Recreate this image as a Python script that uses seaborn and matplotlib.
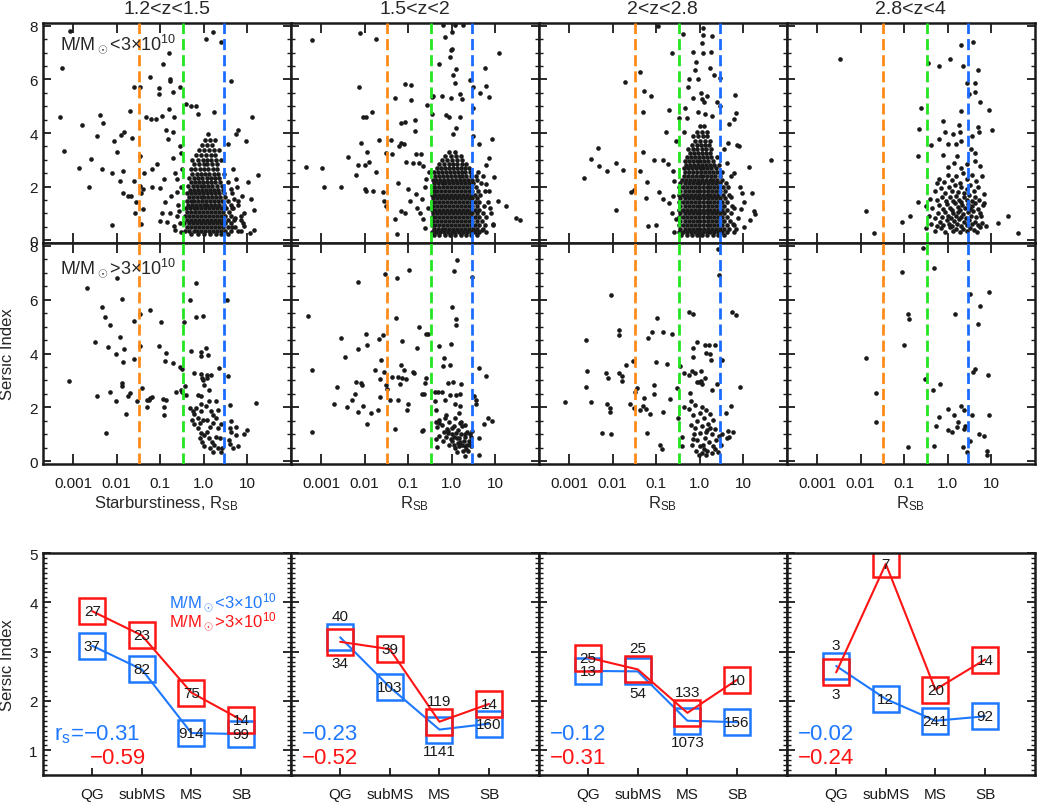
import numpy as np
import seaborn as sns
import pandas as pd
import matplotlib.pyplot as plt
from matplotlib.ticker import FixedLocator, LogLocator, MultipleLocator, NullFormatter

sns.set_theme(style='ticks')
plt.rcParams['font.family'] = ['Liberation Sans', 'DejaVu Sans']
plt.rcParams['mathtext.fontset'] = 'custom'
plt.rcParams['mathtext.rm'] = 'Liberation Sans'
plt.rcParams['mathtext.it'] = 'Liberation Sans:italic'

# ---- labels / categories ----
z_bins = ['1.2<z<1.5', '1.5<z<2', '2<z<2.8', '2.8<z<4']
classes = ['QG', 'subMS', 'MS', 'SB']
rsb_cuts = [1 / 30, 1 / 3, 3]
rsb_ticks = [0.001, 0.01, 0.1, 1.0, 10]
rsb_ticklabels = ['0.001', '0.01', '0.1', '1.0', '10']

# ---- scatter data: (log10 R_SB, Sersic n) ----
lo_z1 = [(-3.08,7.79),(-3.26,6.44),(-3.31,4.60),(-3.20,3.33),(-2.79,4.30),(-2.87,2.71),(-2.64,1.99),(-2.58,3.02),
         (-2.46,3.88),(-2.38,4.66),(-2.31,4.39),(-2.34,2.64),(-2.11,2.52),(-2.05,3.72),(-1.99,3.28),(-2.10,0.58),
         (-1.93,2.21),(-1.89,3.91),(-1.82,4.02),(-1.84,2.59),(-1.85,1.78),(-1.74,1.65),(-1.66,1.65),(-1.69,4.81),
         (-1.64,3.82),(-1.60,5.72),(-1.59,2.21),(-1.55,1.41),(-1.57,1.03),(-1.47,5.70),(-1.47,3.15),(-1.47,2.03),
         (-1.43,1.78),(-1.39,1.90),(-1.38,2.52),(-1.44,0.60),(-1.39,1.18),(-1.32,4.60),(-1.22,6.08),(-1.20,4.51),
         (-1.19,2.65),(-1.18,1.97),(-1.09,4.54),(-1.07,2.84),(-1.03,5.66),(-1.03,5.47),(-1.01,1.94),(-0.96,4.64),
         (-0.93,6.59),(-0.96,1.03),(-0.90,2.28),(-0.86,4.12),(-0.82,3.77),(-0.80,4.89),(-0.78,6.03),(-0.77,5.95),
         (-0.79,7.00),(-0.70,5.53),(-0.68,4.58),(-0.71,4.02),(-0.70,3.08),(-0.65,2.52),(-0.74,1.65),(-0.88,1.41),
         (-1.01,0.72),(-0.84,0.68),(-0.69,0.53),(-0.78,1.03),(-0.55,5.70),(-0.51,3.27),(-0.55,3.52),(-0.49,2.65),
         (-0.40,5.07),(-0.28,5.01),(-0.17,4.99),(-0.13,4.70),(0.06,7.52),(0.22,7.77),(0.41,7.38),(0.62,5.93),
         (0.23,4.77),(0.56,3.58),(0.74,3.97),(0.79,4.10),(0.98,3.71),(1.12,4.59),(1.26,2.43),(1.02,2.19),
         (1.10,1.53),(1.15,1.13),(1.17,0.39),(1.07,0.26),(0.94,0.53),(0.77,1.97),(0.68,2.65),(0.89,1.65),
         (-0.62,0.90),(-0.58,1.30),(-0.66,0.40),(-0.55,0.65),(-0.60,1.80),(-0.52,2.00),(-0.57,1.10),(-0.53,0.30),
         (-0.62,2.30),(0.65,0.50),(0.72,0.85),(0.80,1.30),(0.85,0.35),(0.70,1.55),(0.62,1.90),(0.75,2.30),
         (0.92,1.00),(0.66,1.20),(0.85,0.75)]
lo_z1_core = [
    (0.22, [-0.28,-0.12,0.02,0.15,0.28,0.40,0.55]),
    (0.35, [-0.42,-0.33,-0.23,-0.14,-0.05,0.04,0.13,0.22,0.31,0.40,0.50,0.63,0.80]),
    (0.49, [-0.37,-0.28,-0.19,-0.10,-0.01,0.08,0.17,0.26,0.35,0.45,0.57,0.72]),
    (0.63, [-0.45,-0.33,-0.24,-0.15,-0.06,0.03,0.12,0.21,0.30,0.39,0.49,0.64,0.90]),
    (0.77, [-0.38,-0.28,-0.19,-0.10,-0.01,0.08,0.17,0.26,0.35,0.44,0.56,0.70]),
    (0.91, [-0.42,-0.33,-0.24,-0.15,-0.06,0.03,0.12,0.21,0.30,0.39,0.50,0.62,0.85]),
    (1.05, [-0.37,-0.28,-0.19,-0.10,-0.01,0.08,0.17,0.26,0.35,0.45,0.58]),
    (1.19, [-0.41,-0.32,-0.23,-0.14,-0.05,0.04,0.13,0.22,0.31,0.40,0.52,0.68]),
    (1.33, [-0.36,-0.27,-0.18,-0.09,0.00,0.09,0.18,0.27,0.36,0.47,0.62]),
    (1.47, [-0.39,-0.30,-0.21,-0.12,-0.03,0.06,0.15,0.24,0.33,0.42,0.55,0.78]),
    (1.61, [-0.34,-0.25,-0.16,-0.07,0.02,0.11,0.20,0.29,0.38,0.50]),
    (1.75, [-0.37,-0.28,-0.19,-0.10,-0.01,0.08,0.17,0.26,0.36,0.48,0.66]),
    (1.89, [-0.32,-0.22,-0.13,-0.04,0.05,0.14,0.23,0.33,0.44]),
    (2.03, [-0.35,-0.25,-0.16,-0.07,0.02,0.11,0.20,0.30,0.42]),
    (2.17, [-0.29,-0.19,-0.10,-0.01,0.08,0.17,0.27,0.38,0.55]),
    (2.33, [-0.33,-0.22,-0.12,-0.03,0.07,0.16,0.26,0.36]),
    (2.49, [-0.27,-0.16,-0.06,0.04,0.13,0.23,0.34,0.48]),
    (2.66, [-0.30,-0.19,-0.08,0.02,0.11,0.21,0.31]),
    (2.83, [-0.22,-0.11,0.00,0.09,0.19,0.30]),
    (3.00, [-0.26,-0.13,-0.02,0.08,0.17,0.28,0.40]),
    (3.18, [-0.18,-0.05,0.06,0.16,0.26]),
    (3.36, [-0.10,0.02,0.13,0.24,0.36]),
    (3.55, [-0.03,0.08,0.20]),
    (3.75, [0.03,0.15,0.27]),
    (3.95, [0.10]),
]

lo_z2 = [(-3.21,7.46),(-2.11,7.71),(-1.73,7.50),(-2.12,5.70),(-2.03,4.61),(-1.96,4.61),(-1.82,4.79),(-2.07,3.64),
         (-1.94,3.31),(-1.67,3.73),(-2.38,3.12),(-3.35,2.72),(-2.97,2.71),(-2.92,2.00),(-2.55,2.00),(-2.20,2.45),
         (-2.14,2.81),(-2.00,2.81),(-1.90,2.92),(-1.74,2.54),(-1.98,1.93),(-1.97,1.84),(-1.80,1.82),(-1.57,1.80),
         (-1.55,1.47),(-1.50,1.27),(-1.50,3.27),(-1.40,3.74),(-1.36,3.21),(-1.31,5.29),(-1.21,3.52),(-1.17,3.64),
         (-1.09,3.60),(-1.06,5.82),(-0.94,5.78),(-0.94,5.24),(-1.17,4.39),(-1.06,4.42),(-0.83,4.48),(-0.83,4.08),
         (-0.82,3.23),(-0.71,3.23),(-1.05,2.92),(-0.88,2.90),(-0.75,2.87),(-0.66,2.77),(-0.56,5.04),(-0.46,5.36),
         (-0.43,5.39),(-0.46,4.70),(-0.29,6.57),(-0.16,7.59),(0.01,7.75),(0.07,8.04),(-0.19,8.04),(0.26,8.04),
         (-0.02,7.10),(0.02,7.13),(-0.03,6.85),(0.11,6.38),(0.09,5.88),(0.03,6.16),(-0.21,5.39),(-0.02,5.32),
         (0.19,5.45),(0.24,5.26),(-0.12,4.68),(-0.07,4.58),(0.19,4.61),(0.11,4.20),(0.03,3.98),(0.42,5.98),
         (0.49,5.73),(0.66,5.49),(0.78,5.76),(0.76,6.44),(0.85,5.36),(1.08,6.97),(0.49,4.95),(0.63,3.58),
         (0.80,2.81),(0.92,3.77),(0.86,3.05),(0.49,3.89),(1.25,1.28),(1.49,0.83),(1.57,0.76),(1.07,1.47),
         (0.86,1.84),(-1.30,0.78),(-1.25,0.22),(-1.17,1.09),(-1.08,1.03),(-1.23,2.15),(-1.00,1.90),(-0.96,1.47),
         (-0.81,1.72),(-0.79,1.22),(-0.73,1.03),(-0.66,0.78),(-0.69,1.53),(-0.62,1.97),(-0.58,2.28),(-0.60,0.45),
         (-0.55,1.20),(-0.52,2.55),(0.72,2.40),(0.80,2.10),(0.88,1.20),(0.95,0.60),(0.70,0.40),(0.98,2.35)]
lo_z2_core = [
    (0.18, [-0.40,-0.28,-0.15,-0.03,0.09,0.21,0.33,0.45,0.58]),
    (0.30, [-0.45,-0.36,-0.27,-0.18,-0.09,0.00,0.09,0.18,0.27,0.36,0.45,0.54,0.64,0.80]),
    (0.44, [-0.41,-0.32,-0.23,-0.14,-0.05,0.04,0.13,0.22,0.31,0.40,0.49,0.59,0.72]),
    (0.58, [-0.46,-0.37,-0.28,-0.19,-0.10,-0.01,0.08,0.17,0.26,0.35,0.44,0.53,0.63,0.76,0.95]),
    (0.72, [-0.42,-0.33,-0.24,-0.15,-0.06,0.03,0.12,0.21,0.30,0.39,0.48,0.58,0.70]),
    (0.86, [-0.46,-0.37,-0.28,-0.19,-0.10,-0.01,0.08,0.17,0.26,0.35,0.44,0.53,0.63,0.78]),
    (1.00, [-0.42,-0.33,-0.24,-0.15,-0.06,0.03,0.12,0.21,0.30,0.39,0.48,0.58,0.72,0.90]),
    (1.14, [-0.46,-0.37,-0.28,-0.19,-0.10,-0.01,0.08,0.17,0.26,0.35,0.44,0.53,0.64]),
    (1.28, [-0.42,-0.33,-0.24,-0.15,-0.06,0.03,0.12,0.21,0.30,0.39,0.48,0.58,0.74]),
    (1.42, [-0.46,-0.37,-0.28,-0.19,-0.10,-0.01,0.08,0.17,0.26,0.35,0.44,0.53,0.64,0.84]),
    (1.56, [-0.42,-0.33,-0.24,-0.15,-0.06,0.03,0.12,0.21,0.30,0.39,0.48,0.58]),
    (1.70, [-0.45,-0.37,-0.28,-0.19,-0.10,-0.01,0.08,0.17,0.26,0.35,0.44,0.53,0.66]),
    (1.84, [-0.41,-0.33,-0.24,-0.15,-0.06,0.03,0.12,0.21,0.30,0.39,0.48,0.60,0.76]),
    (1.98, [-0.44,-0.37,-0.28,-0.19,-0.10,-0.01,0.08,0.17,0.26,0.35,0.44,0.55]),
    (2.12, [-0.40,-0.32,-0.23,-0.14,-0.05,0.04,0.13,0.22,0.31,0.40,0.50,0.68]),
    (2.26, [-0.43,-0.35,-0.26,-0.17,-0.08,0.01,0.10,0.19,0.28,0.37,0.47,0.58]),
    (2.40, [-0.38,-0.29,-0.20,-0.11,-0.02,0.07,0.16,0.25,0.34,0.44,0.56]),
    (2.54, [-0.41,-0.31,-0.22,-0.13,-0.04,0.05,0.14,0.23,0.32,0.43,0.60]),
    (2.68, [-0.34,-0.24,-0.15,-0.06,0.03,0.12,0.21,0.30,0.41]),
    (2.83, [-0.28,-0.17,-0.07,0.03,0.13,0.23,0.34]),
    (2.98, [-0.22,-0.10,0.01,0.12,0.24]),
    (3.14, [-0.14,-0.02,0.10,0.22]),
    (3.30, [-0.05,0.09]),
]

lo_z3 = [(-2.66,2.34),(-2.50,3.02),(-2.33,3.43),(-2.31,2.77),(-2.13,2.60),(-1.92,2.89),(-1.91,1.13),(-1.77,2.61),
         (-1.72,5.91),(-1.58,1.80),(-1.50,1.87),(-1.36,6.26),(-1.27,5.55),(-1.11,5.39),(-1.29,4.80),(-1.29,3.30),
         (-1.37,2.59),(-1.20,2.18),(-1.23,1.57),(-1.18,0.53),(-0.99,0.57),(-1.05,2.99),(-0.93,1.80),(-0.85,1.55),
         (-0.83,3.00),(-0.73,2.85),(-0.76,4.02),(-0.70,4.85),(-0.64,7.00),(-0.60,2.59),(-0.59,2.21),(-0.95,8.00),
         (-0.55,3.71),(-0.47,4.56),(-0.37,7.69),(-0.33,4.95),(-0.36,4.02),(-0.30,4.55),(-0.14,7.03),(-0.08,6.65),
         (-0.10,6.36),(-0.03,6.03),(-0.24,6.01),(-0.26,5.70),(-0.14,5.32),(0.08,7.92),(0.09,7.65),(0.06,7.34),
         (0.09,7.00),(0.28,7.62),(0.26,7.03),(0.24,6.44),(0.34,6.16),(0.47,6.04),(0.03,5.49),(0.05,5.26),
         (0.16,5.39),(0.10,5.16),(-0.03,4.80),(0.12,4.70),(0.28,4.64),(0.39,5.14),(0.47,5.01),(0.68,4.34),
         (0.81,5.41),(0.84,4.74),(0.80,4.51),(0.66,3.64),(0.85,3.56),(0.91,3.50),(1.14,2.74),(1.65,3.01),
         (0.98,1.78),(1.20,1.78),(1.24,1.09),(1.27,0.97),(1.16,0.75),(1.01,0.50),(0.84,0.41),(0.79,2.52),
         (0.73,2.40),(0.93,2.00),(1.01,1.41),(-0.70,1.38),(-0.64,1.03),(-0.60,1.65),(0.78,1.20),(0.88,0.85),
         (0.72,1.60),(0.95,1.15),(0.76,0.60),(0.62,2.90),(0.55,3.40),(-0.55,0.80),(-0.58,0.30)]
lo_z3_core = [
    (0.18, [-0.42,-0.30,-0.18,-0.06,0.06,0.18,0.30,0.42,0.56]),
    (0.30, [-0.47,-0.38,-0.29,-0.20,-0.11,-0.02,0.07,0.16,0.25,0.34,0.43,0.52,0.62,0.78]),
    (0.44, [-0.46,-0.34,-0.25,-0.16,-0.07,0.02,0.11,0.20,0.29,0.38,0.47,0.57,0.68]),
    (0.58, [-0.47,-0.38,-0.29,-0.20,-0.11,-0.02,0.07,0.16,0.25,0.34,0.43,0.52,0.62,0.80]),
    (0.72, [-0.46,-0.34,-0.25,-0.16,-0.07,0.02,0.11,0.20,0.29,0.38,0.47,0.57,0.70]),
    (0.86, [-0.47,-0.38,-0.29,-0.20,-0.11,-0.02,0.07,0.16,0.25,0.34,0.43,0.52,0.63]),
    (1.00, [-0.46,-0.34,-0.25,-0.16,-0.07,0.02,0.11,0.20,0.29,0.38,0.47,0.57,0.72]),
    (1.14, [-0.47,-0.38,-0.29,-0.20,-0.11,-0.02,0.07,0.16,0.25,0.34,0.43,0.52,0.64]),
    (1.28, [-0.46,-0.34,-0.25,-0.16,-0.07,0.02,0.11,0.20,0.29,0.38,0.47,0.57,0.75]),
    (1.42, [-0.47,-0.38,-0.29,-0.20,-0.11,-0.02,0.07,0.16,0.25,0.34,0.43,0.52,0.64]),
    (1.56, [-0.46,-0.34,-0.25,-0.16,-0.07,0.02,0.11,0.20,0.29,0.38,0.47,0.58]),
    (1.70, [-0.47,-0.38,-0.29,-0.20,-0.11,-0.02,0.07,0.16,0.25,0.34,0.43,0.53,0.68]),
    (1.84, [-0.45,-0.34,-0.25,-0.16,-0.07,0.02,0.11,0.20,0.29,0.38,0.47,0.58]),
    (1.98, [-0.47,-0.38,-0.29,-0.20,-0.11,-0.02,0.07,0.16,0.25,0.34,0.43,0.53,0.66]),
    (2.12, [-0.44,-0.34,-0.25,-0.16,-0.07,0.02,0.11,0.20,0.29,0.38,0.48,0.60]),
    (2.26, [-0.40,-0.31,-0.22,-0.13,-0.04,0.05,0.14,0.23,0.32,0.41,0.52]),
    (2.40, [-0.36,-0.27,-0.18,-0.09,0.00,0.09,0.18,0.27,0.36,0.46]),
    (2.54, [-0.33,-0.24,-0.15,-0.06,0.03,0.12,0.21,0.30,0.40,0.52]),
    (2.68, [-0.36,-0.27,-0.18,-0.09,0.00,0.09,0.18,0.27,0.37]),
    (2.82, [-0.31,-0.22,-0.13,-0.04,0.05,0.14,0.23,0.33,0.45]),
    (2.96, [-0.34,-0.25,-0.16,-0.07,0.02,0.11,0.20,0.30]),
    (3.10, [-0.28,-0.19,-0.10,-0.01,0.08,0.17,0.27,0.40]),
    (3.25, [-0.22,-0.12,-0.03,0.06,0.15,0.25]),
    (3.40, [-0.26,-0.15,-0.05,0.05,0.14,0.26]),
    (3.56, [-0.18,-0.07,0.04,0.13,0.22]),
    (3.72, [-0.10,0.01,0.12,0.25]),
    (3.88, [-0.15,-0.03,0.08,0.18]),
    (4.05, [-0.06,0.06,0.16]),
    (4.25, [0.00,0.10]),
]

lo_z4 = [(-2.47,6.75),(-1.88,1.09),(-1.68,0.29),(-1.05,0.68),(-0.86,0.91),(-0.69,1.44),(-0.67,3.15),(-0.65,4.14),
         (-0.62,4.95),(-0.50,1.28),(-0.50,0.47),(-0.46,6.62),(-0.37,3.54),(-0.20,6.49),(-0.25,2.15),(-0.11,4.45),
         (-0.10,3.17),(-0.19,3.77),(-0.07,4.05),(0.00,3.58),(0.06,6.74),(0.12,3.96),(0.19,3.58),(0.21,3.15),
         (0.26,4.29),(0.29,4.02),(0.31,4.83),(0.32,7.28),(0.35,6.48),(0.32,3.71),(0.44,5.88),(0.50,5.45),
         (0.59,7.38),(0.62,5.86),(0.62,5.51),(0.71,6.34),(0.75,5.17),(0.69,4.24),(0.73,4.02),(0.57,3.89),
         (0.53,3.40),(0.62,3.27),(0.75,2.77),(0.96,4.86),(1.01,4.12),(0.78,2.40),(0.84,1.74),(0.84,1.38),
         (0.77,0.91),(0.88,0.53),(1.17,0.63),(1.40,0.91),(1.63,0.26),
         (-0.30,0.35),(-0.15,0.45),(-0.05,0.32),(0.05,0.48),(0.12,0.36),(0.20,0.44),(0.28,0.30),(0.36,0.42),
         (0.45,0.35),(0.52,0.46),(0.60,0.38),(0.68,0.30),(0.75,0.50),
         (-0.38,0.62),(-0.25,0.55),(-0.18,0.70),(-0.10,0.58),(-0.02,0.75),(0.04,0.62),(0.10,0.55),(0.15,0.72),
         (0.21,0.60),(0.27,0.78),(0.32,0.55),(0.38,0.68),(0.44,0.58),(0.50,0.75),(0.56,0.60),(0.62,0.70),
         (0.70,0.56),(0.80,0.66),
         (-0.42,0.90),(-0.30,0.85),(-0.22,1.00),(-0.12,0.88),(-0.05,1.05),(0.02,0.92),(0.08,0.82),(0.13,1.02),
         (0.19,0.90),(0.25,1.06),(0.30,0.86),(0.36,0.98),(0.42,0.84),(0.47,1.04),(0.53,0.92),(0.59,1.08),
         (0.66,0.88),(0.74,1.00),
         (-0.35,1.20),(-0.20,1.30),(-0.10,1.15),(-0.02,1.35),(0.06,1.22),(0.11,1.12),(0.17,1.38),(0.23,1.25),
         (0.29,1.14),(0.34,1.32),(0.40,1.20),(0.46,1.36),(0.51,1.16),(0.57,1.28),(0.64,1.38),(0.71,1.18),(0.82,1.30),
         (-0.40,1.55),(-0.25,1.50),(-0.13,1.62),(-0.03,1.45),(0.05,1.60),(0.12,1.48),(0.20,1.66),(0.26,1.52),
         (0.32,1.44),(0.38,1.62),(0.44,1.50),(0.50,1.68),(0.56,1.46),(0.63,1.60),(0.72,1.50),
         (-0.30,1.85),(-0.16,1.95),(-0.06,1.78),(0.03,2.00),(0.10,1.85),(0.18,2.06),(0.25,1.80),(0.31,1.98),
         (0.38,1.76),(0.45,1.92),(0.52,2.08),(0.60,1.85),(0.70,2.00),
         (-0.20,2.30),(-0.08,2.18),(0.02,2.45),(0.10,2.25),(0.20,2.40),(0.28,2.15),(0.36,2.50),(0.44,2.30),
         (0.55,2.42),(0.65,2.20),(0.00,2.75),(0.15,2.90),(0.30,2.70),(0.45,2.85),(0.62,2.95)]

hi_z1 = [(-2.68,6.44),(-3.10,2.99),(-2.25,1.04),(-2.50,4.42),(-2.46,2.44),(-2.34,5.72),(-2.27,5.35),(-2.20,4.23),
         (-2.16,5.04),(-2.16,2.57),(-2.02,3.98),(-2.01,2.22),(-1.99,6.81),(-1.92,4.62),(-1.87,6.04),(-1.83,4.17),
         (-1.85,3.68),(-1.88,2.90),(-1.87,2.78),(-1.79,1.75),(-1.74,2.42),(-1.69,2.53),(-1.59,3.78),(-1.59,5.20),
         (-1.47,4.27),(-1.45,5.47),(-1.41,2.72),(-1.52,2.25),(-1.29,2.26),(-1.26,2.28),(-1.24,2.34),(-1.19,2.37),
         (-1.30,2.00),(-1.22,5.63),(-1.03,4.27),(-0.98,5.17),(-0.94,2.31),(-0.91,1.72),(-0.90,2.03),(-0.87,2.26),
         (-0.86,4.02),(-0.88,3.71),(-0.70,3.65),(-0.63,2.59),(-0.54,3.50),(-0.50,3.41),(-0.53,2.66),(-0.49,2.59),
         (-0.45,5.17),(-0.42,2.78),(-0.40,2.47),(-0.32,5.97),(-0.28,4.08),(-0.22,3.28),(-0.18,5.35),(-0.17,6.63),
         (-0.07,2.44),(-0.05,2.12),(-0.02,5.38),(-0.06,4.06),(-0.07,3.90),(-0.06,3.24),(-0.04,3.09),(-0.02,3.03),
         (0.00,2.84),(0.06,4.21),(0.08,3.09),(0.11,3.96),(0.09,3.21),(0.12,2.66),(0.16,3.19),(0.35,3.46),
         (0.12,2.25),(0.22,1.72),(0.08,1.54),(0.29,2.22),(0.34,1.91),(0.54,5.98),(0.57,3.15),(0.60,2.10),
         (0.63,1.50),(0.64,1.10),(0.75,0.98),(0.58,0.79),(0.60,0.63),(0.67,0.48),(0.79,0.58),(0.94,1.02),
         (1.00,1.17),(1.20,2.18),(-0.31,1.97),(-0.25,1.87),(-0.17,1.97),(-0.22,1.76),(-0.27,1.54),(-0.23,1.38),
         (-0.13,1.59),(-0.09,1.41),(-0.12,1.23),(-0.07,1.04),(-0.09,0.86),(-0.03,0.73),(0.02,0.55),(0.02,0.98),
         (0.08,1.10),(0.14,1.29),(0.12,0.86),(0.19,0.71),(0.15,0.51),(0.25,0.61),(0.29,0.92),(0.37,0.86),
         (0.33,1.23),(0.40,1.38),(0.22,1.41),(0.33,0.48),(0.39,0.36),(0.43,0.51),(0.22,0.36),(-0.01,1.54),
         (-0.12,2.47),(0.06,2.04),(0.18,1.85),(0.29,1.60),(0.61,1.23),(0.75,1.29),(-0.05,1.85)]

hi_z2 = [(-3.29,5.38),(-3.20,3.38),(-3.20,1.08),(-2.71,2.14),(-2.63,2.76),(-2.54,4.56),(-2.46,3.87),(-2.41,2.02),
         (-2.29,2.27),(-2.23,2.50),(-2.20,2.95),(-2.16,6.65),(-2.16,4.18),(-2.15,1.83),(-2.08,2.89),(-2.06,2.83),
         (-2.03,2.07),(-1.97,4.71),(-1.94,4.30),(-1.94,1.40),(-1.86,1.80),(-1.75,3.37),(-1.69,1.90),(-1.66,4.55),
         (-1.65,2.38),(-1.64,3.06),(-1.62,3.75),(-1.58,4.68),(-1.52,6.96),(-1.51,2.83),(-1.48,2.69),(-1.55,3.30),
         (-1.42,2.29),(-1.36,3.12),(-1.31,1.20),(-1.28,5.33),(-1.25,6.80),(-1.23,3.14),(-1.22,2.29),(-1.19,2.85),
         (-1.17,3.56),(-1.15,3.09),(-1.14,4.46),(-1.09,3.37),(-1.04,3.04),(-1.02,1.92),(-0.98,7.09),(-1.00,2.14),
         (-0.88,3.32),(-0.86,3.26),(-0.79,4.21),(-0.75,4.99),(-0.69,1.12),(-0.66,1.15),(-0.67,2.50),(-0.64,2.48),
         (-0.61,2.89),(-0.58,4.71),(-0.54,4.73),(-0.58,3.10),(-0.39,2.58),(-0.37,2.23),(-0.36,1.90),(-0.36,1.46),
         (-0.30,4.28),(-0.32,2.58),(-0.34,1.26),(-0.35,0.84),(-0.33,0.52),(-0.29,1.43),(-0.23,2.57),(-0.20,3.53),
         (-0.18,3.84),(-0.14,2.26),(-0.12,1.73),(-0.09,2.89),(-0.08,1.14),(-0.04,3.59),(-0.03,2.47),(-0.01,4.37),
         (0.00,5.72),(0.03,2.95),(0.05,7.06),(0.10,5.28),(0.10,5.06),(0.11,2.45),(0.09,2.11),(0.13,7.46),
         (0.21,2.87),(0.19,2.48),(0.19,2.04),(0.19,1.43),(0.16,1.78),(0.48,6.84),(0.48,1.14),(0.51,2.44),
         (0.55,2.28),(0.57,2.11),(0.62,0.87),(0.62,0.25),(0.64,3.47),(0.74,1.40),(0.80,3.16),(0.83,1.61),
         (0.93,1.49),(0.45,0.89),(0.43,0.66),(0.34,0.47),(0.30,0.19),
         (-0.30,1.55),(-0.22,1.35),(-0.15,1.62),(-0.10,1.20),(-0.05,1.45),(0.00,1.00),(0.05,1.30),(0.08,1.60),
         (0.12,0.85),(0.15,1.15),(0.20,0.70),(0.22,1.00),(0.25,1.30),(0.30,0.55),(0.32,0.90),(0.35,1.10),
         (0.38,0.40),(0.40,0.75),(0.42,1.00),(-0.28,0.95),(-0.20,0.75),(-0.12,0.90),(-0.05,0.60),(0.02,0.75),
         (0.08,0.50),(0.12,0.35),(0.18,0.55),(0.26,0.40),(0.10,1.05),(0.00,1.25),(-0.08,1.05),(0.18,0.85),
         (0.28,0.75),(0.35,0.60),(0.05,0.92),(-0.18,1.10),(0.22,1.45),(0.32,1.35),(0.45,0.55),(0.15,0.68),
         (0.25,0.60),(0.06,0.62),(-0.02,0.82),(0.30,1.00)]

hi_z3 = [(-3.09,2.19),(-2.61,4.50),(-2.59,3.35),(-2.61,2.75),(-2.50,2.19),(-2.24,1.05),(-2.14,3.28),(-2.11,3.10),
         (-2.13,2.14),(-2.06,1.98),(-2.06,1.83),(-2.04,1.03),(-2.04,6.16),(-1.84,4.89),(-1.84,4.67),(-1.86,3.27),
         (-1.78,3.17),(-1.78,2.97),(-1.68,3.59),(-1.61,2.14),(-1.54,3.72),(-1.51,1.96),(-1.49,2.58),(-1.43,2.73),
         (-1.37,1.92),(-1.27,2.35),(-1.29,2.07),(-1.23,1.95),(-1.18,4.56),(-1.20,1.05),(-1.14,1.76),(-1.09,4.80),
         (-1.04,2.83),(-1.04,2.48),(-0.99,3.68),(-0.97,5.30),(-0.91,0.62),(-0.86,0.47),(-0.85,4.81),(-0.83,1.83),
         (-0.75,3.62),(-0.68,2.30),(-0.63,4.73),(-0.53,2.73),(-0.50,1.61),(-0.44,3.53),(-0.41,0.89),(-0.41,0.56),
         (-0.35,3.28),(-0.36,2.01),(-0.24,5.54),(-0.24,3.22),(-0.21,2.54),(-0.20,2.23),(-0.16,5.48),(-0.17,3.35),
         (-0.15,0.83),(-0.14,3.88),(-0.14,4.21),(-0.10,3.28),(-0.07,4.42),(-0.05,2.95),(-0.02,2.95),(0.03,2.97),
         (0.03,3.35),(0.06,2.85),(0.12,3.10),(0.13,4.30),(0.14,4.03),(0.22,4.30),(0.25,3.97),(0.26,3.75),
         (0.29,2.66),(0.36,4.30),(0.41,2.85),(0.43,7.89),(0.45,6.91),(0.51,3.75),(0.51,1.03),(0.60,1.80),
         (0.62,0.87),(0.66,1.12),(0.68,0.89),(0.72,2.04),(0.75,5.54),(0.83,5.42),(0.76,1.09),(0.93,2.76),
         (-0.25,1.95),(-0.15,1.70),(-0.10,2.10),(-0.05,1.50),(0.00,1.80),(0.05,1.30),(0.10,1.60),(0.15,1.10),
         (0.20,1.40),(-0.20,1.35),(-0.12,1.00),(-0.05,0.80),(0.02,1.05),(0.08,0.60),(0.12,0.85),(0.18,0.40),
         (0.22,0.70),(0.28,1.00),(0.32,0.55),(0.38,0.80),(0.42,0.35),(-0.18,0.60),(-0.08,0.40),(0.00,0.55),
         (0.05,0.30),(0.14,0.25),(0.25,1.25),(0.30,1.55),(0.35,1.20),(0.45,0.95),(0.50,0.60),(-0.10,1.25),
         (0.15,1.90),(0.25,1.75),(-0.02,0.25),(0.10,0.45),(0.28,0.30),(0.18,1.15),(0.05,2.00),(0.35,0.45)]

hi_z4 = [(-0.57,7.93),(-0.31,7.19),(-1.04,7.04),(0.96,6.28),(0.51,6.20),(0.74,5.76),(-0.91,5.45),(-0.89,5.27),
         (0.16,5.48),(0.71,5.08),(-1.00,4.30),(-1.88,3.82),(0.64,3.41),(0.58,3.31),(0.93,3.22),(-0.53,3.07),
         (-0.17,2.85),(-0.34,2.64),(-1.65,2.54),(0.31,2.04),(0.02,1.95),(0.37,1.90),(0.55,1.73),(0.96,1.70),
         (-0.19,1.65),(0.15,1.73),(-1.65,1.45),(0.25,1.45),(-0.26,1.30),(0.21,1.29),(0.39,1.30),(0.00,1.18),
         (0.11,1.08),(0.38,1.20),(0.72,1.02),(0.84,0.93),(-0.92,0.52),(-0.31,0.58),(0.35,0.52),(0.51,0.74),
         (0.45,0.33),(0.90,0.40),(0.91,0.25)]

# ---- median Sersic index per class (bottom row), counts and Spearman r ----
n_lo = {'z1': [3.12, 2.64, 1.35, 1.33], 'z2': [3.29, 2.28, 1.42, 1.54],
        'z3': [2.61, 2.60, 1.60, 1.57], 'z4': [2.71, 2.04, 1.60, 1.69]}
n_hi = {'z1': [3.82, 3.33, 2.17, 1.62], 'z2': [3.20, 3.05, 1.58, 1.94],
        'z3': [2.88, 2.64, 1.76, 2.43], 'z4': [2.58, 4.78, 2.23, 2.84]}
cnt_lo = {'z1': [37, 82, 914, 99], 'z2': [40, 103, 1141, 160],
          'z3': [13, 54, 1073, 156], 'z4': [3, 12, 241, 92]}
cnt_hi = {'z1': [27, 23, 75, 14], 'z2': [34, 39, 119, 14],
          'z3': [25, 25, 133, 10], 'z4': [3, 7, 20, 14]}
rs_lo = {'z1': '−0.31', 'z2': '−0.23', 'z3': '−0.12', 'z4': '−0.02'}
rs_hi = {'z1': '−0.59', 'z2': '−0.52', 'z3': '−0.31', 'z4': '−0.24'}

lo_pts = {'z1': (lo_z1, lo_z1_core), 'z2': (lo_z2, lo_z2_core), 'z3': (lo_z3, lo_z3_core), 'z4': (lo_z4, [])}
hi_pts = {'z1': hi_z1, 'z2': hi_z2, 'z3': hi_z3, 'z4': hi_z4}

cut_colors = ['#ff8c1a', '#22e622', '#1a6cff']
c_blue = '#1e78ff'
c_red = '#ff1414'
mass_lo = r'M/M$_\odot$<3×10$^{10}$'
mass_hi = r'M/M$_\odot$>3×10$^{10}$'


def to_frame(pts, core=()):
    lx = [p[0] for p in pts]
    n = [p[1] for p in pts]
    for n_row, row in core:
        lx = lx + list(row)
        n = n + [n_row] * len(row)
    return pd.DataFrame({'rsb': 10 ** np.array(lx), 'n': n})


def style_axes(ax):
    for sp in ax.spines.values():
        sp.set_linewidth(1.8)
        sp.set_color('k')
    ax.tick_params(which='both', direction='in', top=True, right=True, colors='k', labelsize=11)
    ax.tick_params(which='major', length=6, width=1.3)
    ax.tick_params(which='minor', length=3, width=1.0)
    ax.set_facecolor('white')


def scatter_panel(ax, df, show_xlabels):
    sns.scatterplot(data=df, x='rsb', y='n', ax=ax, color='k', s=11, linewidth=0, legend=False, zorder=2)
    ax.set_xscale('log')
    ax.set_xlim(2e-4, 100)
    ax.set_ylim(-0.1, 8.1)
    for c, col in zip(rsb_cuts, cut_colors):
        ax.axvline(c, color=col, lw=2, ls=(0, (4, 1.8)), zorder=3)
    ax.xaxis.set_major_locator(FixedLocator(rsb_ticks))
    ax.xaxis.set_minor_locator(LogLocator(base=10, subs=np.arange(2, 10)))
    ax.xaxis.set_minor_formatter(NullFormatter())
    if show_xlabels:
        ax.set_xticklabels(rsb_ticklabels)
    else:
        ax.xaxis.set_major_formatter(NullFormatter())
    ax.yaxis.set_major_locator(MultipleLocator(2))
    ax.yaxis.set_minor_locator(MultipleLocator(0.5))
    ax.set_xlabel('')
    ax.set_ylabel('')
    style_axes(ax)
    ax.tick_params(axis='x', which='major', length=7, pad=9)


fig = plt.figure(figsize=(10.38, 8.03), dpi=100)
W, H = 1038.0, 803.0
x0, pw = 42.6, 248.0
rows_px = [(24, 244), (244, 465), (554, 776)]

for i, zb in enumerate(['z1', 'z2', 'z3', 'z4']):
    left = (x0 + i * pw) / W
    axs = []
    for (top, bot) in rows_px:
        axs.append(fig.add_axes([left, 1 - bot / H, pw / W, (bot - top) / H]))
    ax_lo, ax_hi, ax_med = axs

    pts, core = lo_pts[zb]
    scatter_panel(ax_lo, to_frame(pts, core), False)
    scatter_panel(ax_hi, to_frame(hi_pts[zb]), True)

    fig.text(left + pw / W / 2, 1 - 9 / H, z_bins[i], ha='center', va='center', fontsize=14)

    # bottom row: medians per class
    xs = np.arange(len(classes))
    for vals, col in ((n_lo[zb], c_blue), (n_hi[zb], c_red)):
        sns.lineplot(x=xs, y=vals, ax=ax_med, color=col, lw=1.5, sort=False, estimator=None,
                     marker='s', markersize=19, markerfacecolor='none', markeredgecolor=col,
                     markeredgewidth=1.8)
    for k in range(len(classes)):
        yl, yh = n_lo[zb][k], n_hi[zb][k]
        if abs(yh - yl) < 0.2:
            s = 1 if yh >= yl else -1
            yh_t, yl_t = yh + s * 0.43, yl - s * 0.43
        else:
            yh_t, yl_t = yh, yl
        ax_med.text(k, yl_t, str(cnt_lo[zb][k]), ha='center', va='center', fontsize=11, color='k')
        ax_med.text(k, yh_t, str(cnt_hi[zb][k]), ha='center', va='center', fontsize=11, color='k')
    ax_med.set_xlim(-1, 4)
    ax_med.set_ylim(0.5, 5)
    ax_med.set_xticks(xs)
    ax_med.set_xticklabels(classes)
    ax_med.yaxis.set_major_locator(MultipleLocator(1))
    ax_med.yaxis.set_minor_locator(MultipleLocator(0.1))
    style_axes(ax_med)
    ax_med.tick_params(axis='x', which='major', length=5, pad=9, top=False)
    if i == 0:
        ax_med.text(0.045, 0.185, r'r$_{\rm s}$=' + rs_lo[zb], transform=ax_med.transAxes,
                    color=c_blue, fontsize=16, va='center', ha='left')
        ax_med.text(0.19, 0.077, rs_hi[zb], transform=ax_med.transAxes,
                    color=c_red, fontsize=16, va='center', ha='left')
        ax_med.text(0.945, 0.78, mass_lo, transform=ax_med.transAxes, color=c_blue,
                    fontsize=12, ha='right', va='center')
        ax_med.text(0.945, 0.694, mass_hi, transform=ax_med.transAxes, color=c_red,
                    fontsize=12, ha='right', va='center')
    else:
        ax_med.text(0.045, 0.185, rs_lo[zb], transform=ax_med.transAxes,
                    color=c_blue, fontsize=16, va='center', ha='left')
        ax_med.text(0.045, 0.077, rs_hi[zb], transform=ax_med.transAxes,
                    color=c_red, fontsize=16, va='center', ha='left')
    ax_med.set_xlabel('')
    ax_med.set_ylabel('')

    if i == 0:
        ax_lo.text(0.07, 0.905, mass_lo, transform=ax_lo.transAxes, fontsize=13, va='center')
        ax_hi.text(0.07, 0.89, mass_hi, transform=ax_hi.transAxes, fontsize=13, va='center')
        ax_hi.set_ylabel('Sersic Index', fontsize=12)
        ax_hi.yaxis.set_label_coords(-0.11, 0.5)
        ax_med.set_ylabel('Sersic Index', fontsize=12)
        ax_med.yaxis.set_label_coords(-0.11, 0.5)
        ax_hi.set_xlabel(r'Starburstiness, R$_{\rm SB}$', fontsize=12, labelpad=2)
    else:
        for a in (ax_lo, ax_hi, ax_med):
            a.yaxis.set_major_formatter(NullFormatter())
        ax_hi.set_xlabel(r'R$_{\rm SB}$', fontsize=12, labelpad=2)

fig.savefig('out.png', dpi=100)
